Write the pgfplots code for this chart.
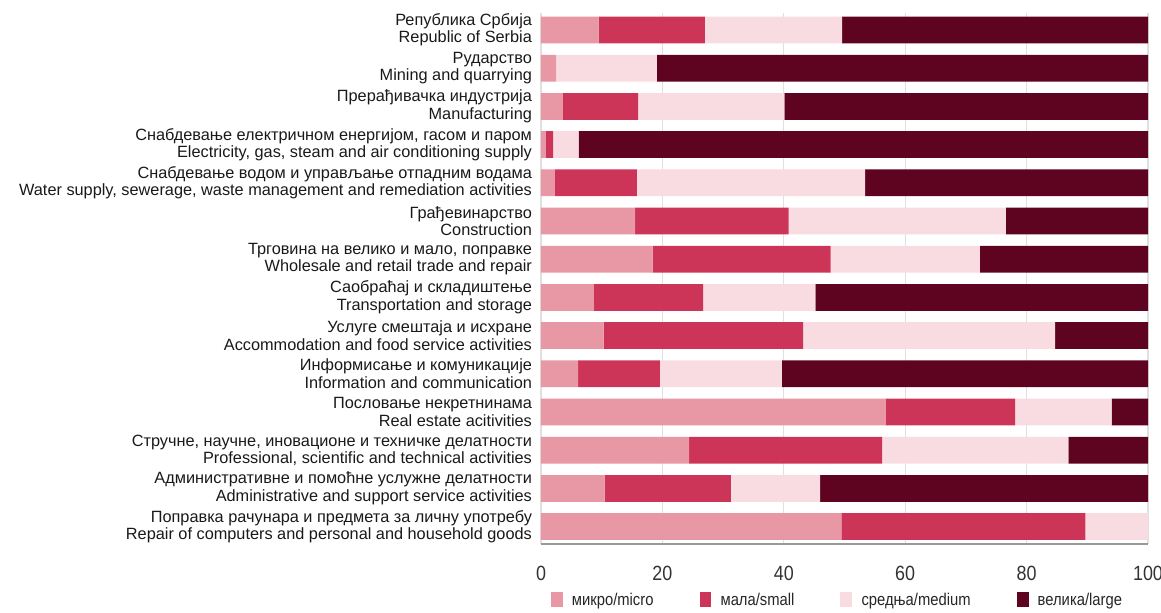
\documentclass[border=0pt]{standalone}
\usepackage{pgfplots}
\pgfplotsset{compat=1.18}
\usepackage{pgfplotstable}
\usepackage{fontspec}
\setmainfont{Liberation Sans}
\newfontfamily\condfont[FakeStretch=0.87]{Liberation Sans}
\definecolor{cmicro}{HTML}{E897A5}
\definecolor{csmall}{HTML}{CC3558}
\definecolor{cmedium}{HTML}{F8DCE1}
\definecolor{clarge}{HTML}{5E0320}
\pgfplotstableread{
idx micro small medium large
0  9.5  17.5 22.6 50.4
1  2.5  0.0  16.6 80.9
2  3.6  12.4 24.1 59.9
3  0.8  1.2  4.2  93.8
4  2.3  13.5 37.6 46.6
5  15.5 25.3 35.8 23.4
6  18.4 29.3 24.6 27.7
7  8.7  18.0 18.5 54.8
8  10.3 32.9 41.5 15.3
9  6.1  13.5 20.1 60.3
10 56.8 21.3 15.9 6.0
11 24.4 31.8 30.7 13.1
12 10.5 20.8 14.7 54.0
13 49.5 40.2 10.3 0.0
}\datatable
\begin{document}
\begin{tikzpicture}
\begin{axis}[
  name=ax,
  scale only axis,
  width=303.5pt, height=265.5pt,
  xbar stacked,
  bar width=0.7,
  xmin=0, xmax=100,
  ymin=-0.45, ymax=13.45,
  y dir=reverse,
  axis x line=bottom,
  axis y line=left,
  x axis line style={draw=black!40, line width=0.9pt, -},
  y axis line style={draw=none},
  xtick={0,20,40,60,80,100},
  ytick={0,...,13},
  major tick length=0pt,
  xmajorgrids,
  grid style={draw=black!12, line width=0.6pt},
  /pgf/number format/assume math mode=true,
  xticklabel style={font=\condfont\fontsize{10.3}{12}\selectfont, text=black!80, yshift=-7.5pt},
  yticklabel style={font=\fontsize{8.15}{8.7}\selectfont, align=right, text=black!90, xshift=-1pt},
  yticklabels={
    {Република Србија\\Republic of Serbia},
    {Рударство\\Mining and quarrying},
    {Прерађивачка индустрија\\Manufacturing},
    {Снабдевање електричном енергијом, гасом и паром\\Electricity, gas, steam and air conditioning supply},
    {Снабдевање водом и управљање отпадним водама\\Water supply, sewerage, waste management and remediation activities},
    {Грађевинарство\\Construction},
    {Трговина на велико и мало, поправке\\Wholesale and retail trade and repair},
    {Саобраћај и складиштење\\Transportation and storage},
    {Услуге смештаја и исхране\\Accommodation and food service activities},
    {Информисање и комуникације\\Information and communication},
    {Пословање некретнинама\\Real estate acitivities},
    {Стручне, научне, иновационе и техничке делатности\\Professional, scientific and technical activities},
    {Административне и помоћне услужне делатности\\Administrative and support service activities},
    {Поправка рачунара и предмета за личну употребу\\Repair of computers and personal and household goods}
  },
  legend style={at={(0.49,-0.083)}, anchor=north, legend columns=4, draw=none, inner sep=0.5pt,
    font=\condfont\fontsize{8.5}{10}\selectfont, text=black!85,
    /tikz/every even column/.append style={column sep=21pt}},
  legend image code/.code={\fill[#1] (0cm,-0.11cm) rectangle (0.21cm,0.155cm); \path (0.3cm,0);},
]
\addplot[fill=cmicro, draw=none] table[x=micro, y=idx] {\datatable};
\addplot[fill=csmall, draw=none] table[x=small, y=idx] {\datatable};
\addplot[fill=cmedium, draw=none] table[x=medium, y=idx] {\datatable};
\addplot[fill=clarge, draw=none] table[x=large, y=idx] {\datatable};
\legend{микро/micro, мала/small, средња/medium, велика/large}
\end{axis}
\pgfresetboundingbox
\path ([xshift=-270.5pt,yshift=-34.6pt]ax.south west) rectangle ([xshift=6.5pt,yshift=6.4pt]ax.north east);
\end{tikzpicture}
\end{document}
